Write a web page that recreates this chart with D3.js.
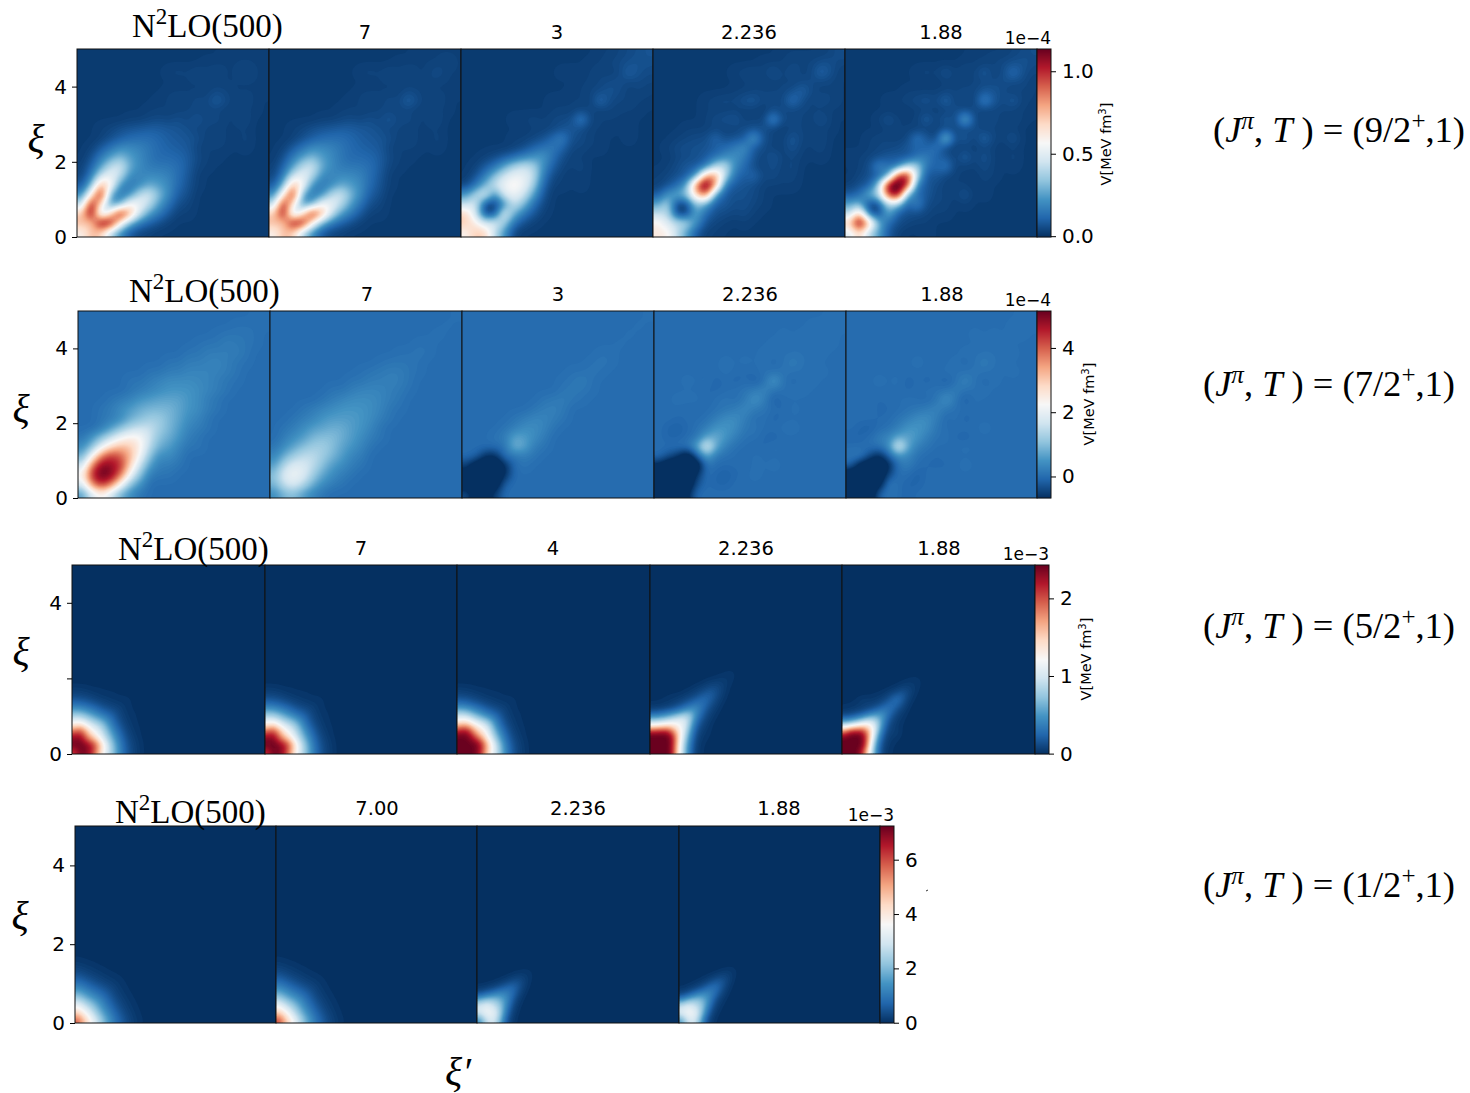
<!DOCTYPE html>
<html><head><meta charset="utf-8">
<script src="https://cdn.jsdelivr.net/npm/d3@7"></script>
<style>html,body{margin:0;padding:0;background:#fff}svg{display:block}</style>
</head><body><svg id="c" width="1470" height="1093"></svg>
<script>
// Each panel: band-stored lower triangle of a symmetric map. Row i ends at the diagonal (j=i).
const r1p1=[[58],[75,70],[70,115,35],[40,110,65,20],[20,60,110,25,14],[8,30,80,60,20,14],[4,16,45,55,42,20,18],[3,10,25,42,48,28,20,16],[2,6,16,25,32,25,20,15,12],[2,3,8,14,20,20,18,15,12,10],[2,3,6,9,12,13,13,11,9,8],[2,3,4,6,7,8,9,9,8,7,6],[2,3,3,4,5,4,6,4,7],[2,2,3,3,3,3,4,4,4],[2,2,3,3,5,3,5,4,9],[2,2,2,3,3,3,3,3,5,4],[2,2,2,3,3,3,3,3,3],[2,3,4,3,5,3,4,3,3,5],[2,2,3,3,3,3,3,3],[2,2,2,3,3,3,3,3]];
const r1p2=[[58],[75,70],[70,110,35],[40,106,63,20],[20,60,106,25,14],[8,30,78,58,20,14],[4,16,45,54,41,20,18],[3,10,25,41,47,28,20,16],[2,6,16,25,31,25,20,15,12],[2,3,8,14,20,20,18,15,12,10],[2,3,6,9,12,13,13,11,9,8],[2,3,4,6,7,8,9,9,8,7,6],[2,3,3,4,5,4,6,4,8],[2,2,3,3,3,3,4,4,4],[2,2,3,3,5,3,5,4,10],[2,2,2,3,3,3,3,3,5,4],[2,2,2,3,3,3,3,3,4],[2,3,4,3,5,3,4,3,3,6],[2,2,3,3,3,3,3,4],[2,2,2,3,3,3,3,3]];
const r1p3=[[58],[72,60],[70,45,3],[42,50,3,2],[22,38,52,18,48],[4,14,30,45,54,60],[2,6,16,32,46,54,52],[2,3,8,14,26,38,44,40],[2,3,5,8,12,18,22,24],[2,3,5,10,14,16],[2,3,3,4,6,11,18],[2,3,3,4,6,8],[2,3,3,4,3,4,5,5,18],[2,2,3,3,3,4,4],[2,3,3,3,3,3,12],[2,3,3,4,5,7],[2,3,3,4,5,6],[2,3,3,3,3,4,3,4,10],[2,3,3,4,5,6,7],[2,2,3,3,4,5,6,7]];
const r1p4=[[62],[60,48],[42,42,2],[25,40,2,2],[8,22,28,35,70],[3,6,12,25,90,125],[3,4,6,8,22,80,85],[2,3,5,8,8,15,40,45],[2,4,5,6,8,14,20,22],[2,3,5,6,6,7,8,12,16,22],[2,2,3,4,5,5,12,5,7,8,26],[2,2,2,3,3,3,4,3,3,5,6,6],[2,3,5,6,8,3,4,3,22],[2,2,3,3,3,3,3,3,2,5,4],[3,4,5,4,7,8,4,5,4,14],[2,3,3,4,4,4,4,6,10],[2,2,3,3,3,3,4,3,5,5],[2,3,4,5,3,7,3,6,3,4,11],[2,3,3,3,4,4,4,6,6],[2,3,3,3,3,3,4,6]];
const r1p5=[[48],[70,120],[40,75,8],[25,30,2,3],[8,12,30,40,95],[3,6,8,35,115,125],[2,4,6,8,25,100,110],[2,3,5,20,12,14,40,40],[3,3,4,5,8,8,6,14,18],[2,2,3,4,4,5,8,10,9,16],[2,2,3,4,4,3,4,16,8,3,38],[2,2,2,3,3,3,3,3,3,4,5],[2,3,7,3,3,3,10,3,9,3,32],[2,2,2,2,2,3,3,3,3,6,4,5],[2,3,3,4,5,7,4,11,3,4,3,20],[2,3,3,3,3,4,4,5,4,8,7],[2,2,3,3,3,4,4,5,6],[2,3,4,3,7,3,5,3,9,3,5,14],[2,3,3,3,4,5,6,7],[2,3,3,3,3,4,5,6]];
const r2p1=[[6],[18,38],[24,46,52],[16,38,50,48],[8,22,38,44,40],[4,10,20,28,32,30],[1,5,10,15,21,24,23],[0,0,2,6,10,14,16,16],[0,1,2,4,8,10,12,12],[1,2,4,6,8,9,9,9],[1,2,3,5,6,7,7,7],[1,2,3,4,5,5,5],[1,1,2,3,4,4,4,3.5],[1,1,2,2,3,3,3],[1,1,2,2,2.5,3],[1,1,2,2,2],[0.5,1,1,2,1.5],[0.5,1,1,1],[0.5,0.5,0.5],[0.3,0.3]];
const r2p2=[[4],[9,16],[10,19,21],[6,14,19,18],[3,8,12,15,15],[1,4,7,10,12,12.5],[0,2,4,6,9,10,10],[0,1,2,4,6,7,8,8],[1,2,3,5,6,6,6],[1,2,3,4,5,5,5],[1,2,3,4,4,4],[1,1,2,3,3,3],[1,1,2,2,2.5],[0.5,1,1.5,2,2],[0.5,1,1,1],[0.5,0.5,1],[0.5,0.5],[0.5],[0.3],[0.3]];
const r2p3=[[-4],[-10,-12],[-9,-12,-12],[-5,-11,-12,-12],[0,-1,-7,-7,1],[0,0,0,0,1,9],[0,0,0,1,2,7,6],[1,2,4,4],[1,2,3,3],[1,2,2.5],[1,1.5,2],[1,1.5],[0.5,1,2],[0.5,0.5,1],[0.5,1],[0.5,0.5],[0.3],[0.3],[0.3],[0.3]];
const r2p4=[[-12],[-12,-12],[-12,-12,-12],[-8,-12,-12,-12],[0,-3,-6,-12,-2],[0,0,0.5,1,7,21],[0,-1,-1,0,1,7,8],[0,-1,-1.5,-0.5,0.5,2,5,5],[0,-0.5,0,0,0.5,2,4,4],[0,0,-0.5,-0.5,0,0.5,1,2,3.5],[0,0.5,0.5,0.5,-0.5,0.5,1,0,1.5,5],[0,-0.5,-0.5,0,0.5,1,2,3],[0,0.5,0,0.5,-1,0,-1,0,-1.5,0.5,6],[0.5,0,-0.5,0,0.5,0.5,1],[0,0.5,0,0.5,0,0.5,-0.5,0.5,2],[0,0.5,0.5,0.5,0.5,0.5],[0.5,0,0.5,0.5,0.5],[0,0.5,0,0.5,0,0.5],[0,0.5,0.5,0.5],[0,0.5,0.5]];
const r2p5=[[-12],[-12,-12],[-12,-12,-12],[-1,-10,-12,-12],[1,2,-4,-8,-1],[0,0,0.5,1,4,21],[-1,-1,0,2,3,7,7],[0,-1,-1.5,0,0.5,2,5,5],[0,0,0,-0.5,0,1,2,4,4],[0,0,-0.5,-0.5,0,0.5,1,2,3],[0,0,-0.5,0,0,0.5,0,-0.5,1,5],[0,-0.5,0,0.5,0.5,1,2],[0,0.5,0,0.5,-1,0,-1,0,-1.5,0.5,3],[0,0,0.5,0.5,0.5,1],[0,0.5,0,-0.5,0,0.5,-0.5,0.5,2],[0,0.5,0.5,0.5,0.5],[0,0.5,0.5,0.5],[0,0.5,0,0.5,0,0.5],[0,0.5,0.5],[0.5,0.5]];
const r3p1=[[195],[240,243],[235,243,225],[225,240,205,170],[200,218,195,150,125],[155,180,160,125,110,100],[118,135,115,98,88,78,68],[95,98,88,78,68,58,48,38],[72,72,66,56,47,38,30,24,20],[48,48,43,37,31,24,18,14,11,9],[30,29,26,22,18,14,10,8,6,5,4],[17,16,14,12,9,7,5,4,3,2,2,2],[9,9,8,6,5,3,3,2,2,1,1,1,1],[5,4,4,3,2,2,1,1,1,1,1,1,1,1],[2,2,2,1,1,1,1,1,1,1,1,0,0,0,0]];
const r3p2=[[200],[242,243],[237,243,227],[228,242,208,172],[202,220,197,152,127],[157,182,162,127,112,101],[119,136,116,99,89,79,69],[95,98,88,78,68,58,48,38],[72,72,66,56,47,38,30,24,20],[48,48,43,37,31,24,18,14,11,9],[30,29,26,22,18,14,10,8,6,5,4],[17,16,14,12,9,7,5,4,3,2,2,2],[9,9,8,6,5,3,3,2,2,1,1,1,1],[5,4,4,3,2,2,1,1,1,1,1,1,1,1],[2,2,2,1,1,1,1,1,1,1,1,0,0,0,0]];
const r3p3=[[243],[243,243],[243,243,243],[243,243,238,210],[228,243,225,185,150],[185,205,190,155,135,120],[140,155,140,118,108,98,85],[110,115,105,90,78,66,55,44],[85,85,75,62,52,42,33,26,21],[55,55,48,40,33,25,19,15,11,9],[32,31,27,22,18,14,10,8,6,5,4],[18,17,14,12,9,7,5,4,3,2,2,2],[9,9,8,6,5,3,3,2,2,1,1,1,1],[5,4,4,3,2,2,1,1,1,1,1,1,1,1],[2,2,2,1,1,1,1,1,1,1,1,0,0,0,0]];
const r3p4=[[243],[243,243],[243,243,243],[243,243,243,243],[243,243,243,243,205],[150,160,165,170,170,130],[105,105,110,115,120,125,115],[55,58,65,75,85,95,105,105],[25,28,32,38,46,55,65,75,80],[5,6,8,10,14,20,28,38,45,48],[2,2,3,4,6,10,14,20,28,34,34],[1,1,1,2,3,4,6,10,14,20,26,28],[1,1,2,2,3,4,6,10,15,20,24],[2,3,5,8,12,15,15],[2,3,5,8,10,9],[2,3,4,5,5],[1,2,3,3],[1,2,2]];
const r3p5=[[243],[243,243],[243,243,243],[243,243,243,243],[190,243,243,243,225],[130,150,160,170,180,145],[65,72,85,98,112,125,110],[25,28,36,46,60,75,80,70],[6,8,11,15,22,32,42,50,54],[2,3,4,5,7,10,14,20,30,34],[1,1,2,3,5,6,8,11,18,26,30],[1,1,1,3,7,3,3,4,7,12,24,32],[1,2,3,4,7,14,20,22],[1,2,3,6,11,11],[1,2,4,5,5],[1,2,3,3],[1,1,1]];
const r4p1=[[610],[500,430],[420,370,310],[350,300,260,220],[280,240,205,175,145],[215,185,155,130,110,90],[160,140,115,95,78,62,50],[115,100,82,66,52,40,30,23],[80,68,54,42,32,24,18,13,10],[52,43,34,26,20,14,10,7,5,4],[32,26,20,15,11,8,5,4,3,2,2],[18,14,11,8,6,4,3,2,2,1,1,1],[9,7,5,4,3,2,2,1,1,1,1,1,1],[4,3,3,2,2,1,1,1,1,1,1,0,0,0],[2,2,1,1,1,1,0,0,0,0,0,0,0,0,0]];
const r4p2=[[640],[515,445],[430,378,315],[355,305,264,223],[282,242,207,177,147],[215,185,156,131,111,91],[160,140,115,95,78,62,50],[115,100,82,66,52,40,30,23],[80,68,54,42,32,24,18,13,10],[52,43,34,26,20,14,10,7,5,4],[32,26,20,15,11,8,5,4,3,2,2],[18,14,11,8,6,4,3,2,2,1,1,1],[9,7,5,4,3,2,2,1,1,1,1,1,1],[4,3,3,2,2,1,1,1,1,1,1,0,0,0],[2,2,1,1,1,1,0,0,0,0,0,0,0,0,0]];
const r4p3=[[90],[240,310],[300,350,340],[300,340,320,280],[190,250,250,235,195],[70,105,130,155,165,135],[18,30,45,65,90,105,105],[4,6,10,16,30,52,72,75],[1,2,2,4,7,14,28,42,45],[1,2,6,12,18,18],[1,2,4,7,6],[1,1,2,2],[1,1]];
const r4p4=[[110],[270,340],[310,360,350],[280,330,310,270],[130,205,235,240,210],[35,70,105,150,170,150],[8,15,30,52,80,110,120],[2,4,8,14,28,52,82,92],[1,1,2,4,8,16,36,55,60],[1,2,4,8,18,30,32],[1,2,5,11,13],[1,2,3,4],[1,1]];

const titlesA=["7","3","2.236","1.88"], titlesB=["7","4","2.236","1.88"], titlesC=["7.00","2.236","1.88"];
const stops=["#053061","#2166ac","#4393c3","#92c5de","#d1e5f0","#f7f7f7","#fddbc7","#f4a582","#d6604d","#b2182b","#67001f"];
const cbarTicks1=[0,50,100], cbarLabels1=["0.0","0.5","1.0"];
const cbarTicks2=[0,20,40], cbarLabels2=["0","2","4"];
const cbarTicks3=[0,100,200], cbarLabels3=["0","1","2"];
const cbarTicks4=[0,200,400,600], cbarLabels4=["0","2","4","6"];
const yTicks=[0,2,4];
const states=["9/2","7/2","5/2","1/2"];

const groups=[
 {xs:[77,269,461,653,845,1037],y:[237,49],v:[-0.5,113.5],bg:2,step:.25,panels:[r1p1,r1p2,r1p3,r1p4,r1p5],titles:titlesA,ct:cbarTicks1,cl:cbarLabels1,exp:"1e−4",expY:44,tY:39,nX:132,nY:37,tc:[365,557,749,941],vl:[1111,144],st:[1213,142],xi:[36,152],hide:[]},
 {xs:[78,270,462,654,846,1037],y:[498,311],v:[-6.7,51.5],bg:0,step:.25,panels:[r2p1,r2p2,r2p3,r2p4,r2p5],titles:titlesA,ct:cbarTicks2,cl:cbarLabels2,exp:"1e−4",expY:306,tY:301,nX:129,nY:302,tc:[367,558,750,942],vl:[1094,404],st:[1203,396],xi:[21,422],hide:[]},
 {xs:[72,265,457,650,842,1035],y:[754,565],v:[-.5,243],bg:0,step:.125,panels:[r3p1,r3p2,r3p3,r3p4,r3p5],titles:titlesB,ct:cbarTicks3,cl:cbarLabels3,exp:"1e−3",expY:560,tY:555,nX:118,nY:560,tc:[361,553,746,939],vl:[1091,659],st:[1203,638],xi:[21,665],hide:[2]},
 {xs:[75,276,477,679,880],y:[1023,826],v:[-1,724],bg:0,step:.125,panels:[r4p1,r4p2,r4p3,r4p4],titles:titlesC,ct:cbarTicks4,cl:cbarLabels4,exp:"1e−3",expY:821,tY:815,nX:115,nY:823,tc:[377,578,779],vl:null,st:[1203,897],xi:[20,929],hide:[]}
];

const svg=d3.select("#c");
const sans="'DejaVu Sans'", serif="'Liberation Serif'";
const M=80;
function fieldOf(rows,n,bg){
  const a=new Float64Array(n*n).fill(bg);
  rows.forEach((r,i)=>{r.forEach((v,k)=>{const j=i-r.length+1+k;a[i*n+j]=v;a[j*n+i]=v;});});
  const out=new Float64Array(M*M);
  for(let y=0;y<M;y++)for(let x=0;x<M;x++){
    const u=Math.max(0,Math.min(n-1.0001,(x+.5)/M*n-.5)),w=Math.max(0,Math.min(n-1.0001,(y+.5)/M*n-.5));
    const i0=Math.floor(u),j0=Math.floor(w),fu=u-i0,fw=w-j0;
    out[y*M+x]=(1-fu)*(1-fw)*a[j0*n+i0]+fu*(1-fw)*a[j0*n+i0+1]+(1-fu)*fw*a[(j0+1)*n+i0]+fu*fw*a[(j0+1)*n+i0+1];
  }
  return out;
}
groups.forEach((g,gi)=>{
  const [ybot,ytop]=g.y, vmin=g.v[0], vmax=g.v[1];
  const color=d3.scaleLinear().domain(stops.map((s,k)=>vmin+(vmax-vmin)*k/10)).range(stops).clamp(true);
  const yXi=d3.scaleLinear().domain([0,5]).range([ybot,ytop]);
  const L=128;
  const thresholds=d3.range(1,L).map(k=>vmin+(vmax-vmin)*k/L);
  const n=Math.round(5/g.step);
  const radius=g.step===.25?1.1:0.9;
  const cbX=g.xs[g.xs.length-1];
  g.panels.forEach((rows,pi)=>{
    const x0=g.xs[pi],x1=pi+1<g.xs.length?g.xs[pi+1]:cbX;
    const xXi=d3.scaleLinear().domain([0,5]).range([x0,x1]);
    const field=fieldOf(rows,n,g.bg);
    d3.blur2({data:field,width:M,height:M},radius);
    const id=`cp${gi}_${pi}`;
    svg.append("clipPath").attr("id",id).append("rect").attr("x",x0).attr("y",ytop).attr("width",x1-x0).attr("height",ybot-ytop);
    const p=svg.append("g").attr("clip-path",`url(#${id})`);
    p.append("rect").attr("x",x0).attr("y",ytop).attr("width",x1-x0).attr("height",ybot-ytop).attr("fill",color(vmin));
    const path=d3.geoPath(d3.geoTransform({point(x,y){this.stream.point(xXi(x/M*5),yXi(y/M*5));}}));
    const cs=d3.contours().size([M,M]).thresholds(thresholds)(field).filter(c=>c.coordinates.length);
    p.selectAll("path").data(cs).join("path").attr("d",path).attr("fill",d=>color(d.value+(vmax-vmin)/(2*L)));
    svg.append("rect").attr("x",x0).attr("y",ytop).attr("width",x1-x0).attr("height",ybot-ytop).attr("fill","none").attr("stroke","#111").attr("stroke-width",1);
  });
  // colour bar
  const cbW=14, cbS=d3.scaleLinear().domain([vmin,vmax]).range([ybot,ytop]);
  const cbData=d3.range(ytop,ybot);
  svg.append("g").selectAll("rect").data(cbData).join("rect").attr("x",cbX).attr("width",cbW).attr("y",d=>d).attr("height",1.2).attr("fill",d=>color(cbS.invert(d+.5)));
  svg.append("rect").attr("x",cbX).attr("y",ytop).attr("width",cbW).attr("height",ybot-ytop).attr("fill","none").attr("stroke","#111").attr("stroke-width",1);
  const ax=svg.append("g").attr("transform",`translate(${cbX+cbW},0)`).call(d3.axisRight(cbS).tickValues(g.ct).tickFormat((d,i)=>g.cl[i]).tickSize(5).tickPadding(6));
  ax.select(".domain").remove();
  ax.selectAll("text").attr("font-family",sans).attr("font-size",20).attr("fill","#000");
  ax.selectAll("line").attr("stroke","#000");
  svg.append("text").attr("x",cbX+cbW).attr("y",g.expY).attr("text-anchor","end").attr("font-family",sans).attr("font-size",17).text(g.exp);
  // y axis
  const ya=svg.append("g").attr("transform",`translate(${g.xs[0]},0)`).call(d3.axisLeft(yXi).tickValues(yTicks).tickFormat(d=>g.hide.includes(d)?"":d).tickSize(5).tickPadding(5));
  ya.select(".domain").remove();
  ya.selectAll("text").attr("font-family",sans).attr("font-size",20).attr("fill","#000");
  ya.selectAll("line").attr("stroke","#000");
  // titles
  g.titles.forEach((t,i)=>svg.append("text").attr("x",g.tc[i]).attr("y",g.tY).attr("text-anchor","middle").attr("font-family",sans).attr("font-size",19.5).text(t));
  const nt=svg.append("text").attr("x",g.nX).attr("y",g.nY).attr("font-family",serif).attr("font-size",33);
  nt.append("tspan").text("N");
  nt.append("tspan").attr("dy",-13).attr("font-size",23).text("2");
  nt.append("tspan").attr("dy",13).text("LO(500)");
  // colour bar label
  if(g.vl){
    const vt=svg.append("text").attr("transform",`translate(${g.vl[0]},${g.vl[1]}) rotate(-90)`).attr("text-anchor","middle").attr("font-family",sans).attr("font-size",14.5);
    vt.append("tspan").text("V[MeV fm");
    vt.append("tspan").attr("dy",-5).attr("font-size",10).text("3");
    vt.append("tspan").attr("dy",5).text("]");
  }
  // xi label
  svg.append("text").attr("x",g.xi[0]).attr("y",g.xi[1]).attr("text-anchor","middle").attr("font-family",serif).attr("font-style","italic").attr("font-size",40).text("ξ");
  // state label
  const st=svg.append("text").attr("x",g.st[0]).attr("y",g.st[1]).attr("font-family",serif).attr("font-size",36.5);
  st.append("tspan").text("(");
  st.append("tspan").attr("font-style","italic").text("J");
  st.append("tspan").attr("font-style","italic").attr("dy",-13).attr("font-size",25).text("π");
  st.append("tspan").attr("dy",13).text(", ");
  st.append("tspan").attr("font-style","italic").text("T");
  st.append("tspan").text(" ) = ("+states[gi]);
  st.append("tspan").attr("dy",-13).attr("font-size",25).text("+");
  st.append("tspan").attr("dy",13).text(",1)");
});
svg.append("text").attr("x",445).attr("y",1085).attr("font-family",serif).attr("font-style","italic").attr("font-size",40).text("ξ′");
svg.append("path").attr("d","M926 891l2 -1").attr("stroke","#333").attr("fill","none");
</script></body></html>
